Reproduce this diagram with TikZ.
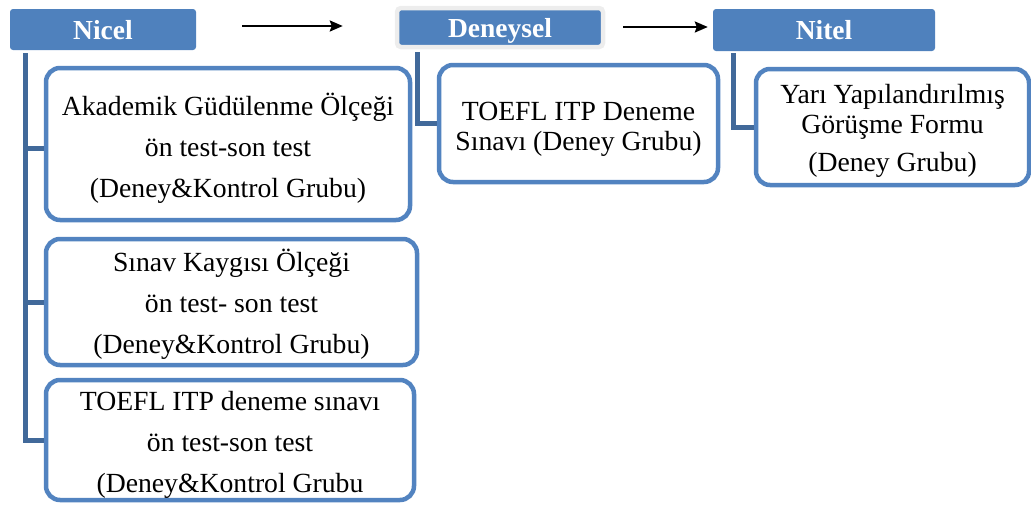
\documentclass[tikz,border=0pt]{standalone}
\usepackage{fontspec}
\setmainfont{Liberation Serif}
\usetikzlibrary{arrows.meta}
\definecolor{hdrblue}{HTML}{4F81BD}
\definecolor{boxblue}{HTML}{5283C0}
\definecolor{connblue}{HTML}{41699A}
\tikzset{
  hdr/.style={rectangle, rounded corners=3pt, fill=hdrblue, text=white, inner sep=0pt,
    text height=25pt, text depth=6pt, font=\bfseries\fontsize{27.5}{30}\selectfont},
  itembox/.style={rectangle, rounded corners=14pt, draw=boxblue, fill=white, line width=4.5pt,
    inner sep=0pt},
  boxtext/.style={inner sep=0pt, align=center, font=\fontsize{27.7}{41}\selectfont},
  conn/.style={draw=connblue, line width=5pt, line join=miter},
  arr/.style={draw=black, line width=2.2pt, -{Stealth[length=13pt,width=11pt,inset=2pt]}}
}
\begin{document}
\begin{tikzpicture}[x=1pt,y=-1pt]
\useasboundingbox (0,0) rectangle (1031,504);
% headers
\node[hdr, minimum width=186pt, minimum height=41pt] (Nicel) at (103,29.5) {Nicel};
\node[hdr, minimum width=206pt, minimum height=39pt, draw=black!7, line width=4.5pt, rounded corners=4pt] (Deneysel) at (500,27.5) {Deneysel};
\node[hdr, minimum width=222pt, minimum height=42pt] (Nitel) at (824,30) {Nitel};
% arrows
\draw[arr] ([xshift=46pt,yshift=3.5pt]Nicel.east) -- ([xshift=-52pt,yshift=1.5pt]Deneysel.west);
\draw[arr] ([xshift=18pt,yshift=0.5pt]Deneysel.east) -- ([xshift=-5pt,yshift=3pt]Nitel.west);
% boxes
\node[itembox, minimum width=364pt, minimum height=152pt] (box1) at (228,144) {};
\node[itembox, minimum width=371pt, minimum height=126pt] (box2) at (231.5,302) {};
\node[itembox, minimum width=368pt, minimum height=120pt] (box3) at (230,440) {};
\node[itembox, minimum width=279pt, minimum height=117pt] (boxD) at (578.5,123.5) {};
\node[itembox, minimum width=273pt, minimum height=116pt] (boxN) at (892.5,127) {};
% box texts
\node[boxtext] (t1) at ([yshift=-4pt]box1.center)
  {Akademik Güdülenme Ölçeği\\ön test-son test\\(Deney\&Kontrol Grubu)};
\node[boxtext] (t2) at ([yshift=-2pt]box2.center)
  {Sınav Kaygısı Ölçeği\\ön test- son test\\(Deney\&Kontrol Grubu)};
\node[boxtext] (t3) at ([yshift=-5pt]box3.center)
  {TOEFL ITP deneme sınavı\\ön test-son test\\(Deney\&Kontrol Grubu};
\node[boxtext, font=\fontsize{27.7}{30}\selectfont] (tD) at ([yshift=-5.5pt]boxD.center)
  {TOEFL ITP Deneme\\Sınavı (Deney Grubu)};
\node[boxtext, font=\fontsize{27.7}{30}\selectfont] (tN) at ([yshift=-4pt]boxN.center)
  {Yarı Yapılandırılmış\\Görüşme Formu\\[8pt](Deney Grubu)};
% connectors
\coordinate (nt) at ([xshift=-77.5pt,yshift=-3pt]Nicel.south);
\draw[conn] (nt) |- ([yshift=-4pt]box1.west);
\draw[conn] (nt) |- (box2.west);
\draw[conn] (nt) |- (box3.west);
\draw[conn] ([xshift=-82.5pt,yshift=-3pt]Deneysel.south) |- (boxD.west);
\draw[conn] ([xshift=-90.5pt,yshift=-2pt]Nitel.south) |- (boxN.west);
\end{tikzpicture}
\end{document}
